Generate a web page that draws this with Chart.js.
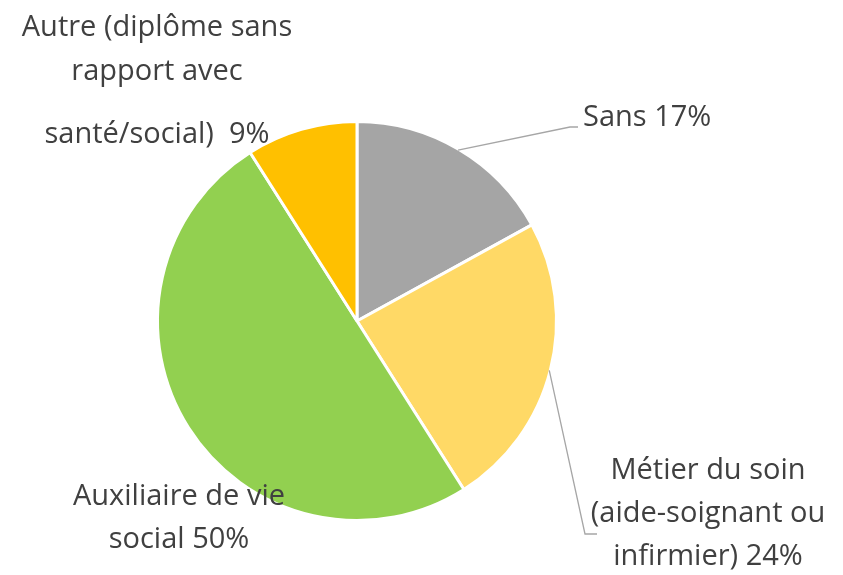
<!DOCTYPE html>
<html>
<head>
<meta charset="utf-8">
<script src="https://cdn.jsdelivr.net/npm/chart.js@4"></script>
<style>
  html, body { margin: 0; padding: 0; background: #fff; }
  #wrap { width: 843px; height: 575px; }
</style>
</head>
<body>
<div id="wrap"><canvas id="pie"></canvas></div>
<script>
// Chart data
const categories = ['Sans', 'Métier du soin (aide-soignant ou infirmier)', 'Auxiliaire de vie social', 'Autre (diplôme sans rapport avec santé/social)'];
const shares = [17, 24, 50, 9];
const sliceColors = ['#A5A5A5', '#FFD966', '#92D050', '#FFC000'];

// Label text lines per slice, plus where each block sits (layout only)
const labelLines = [
    ['Sans 17%'],
    ['Métier du soin', '(aide-soignant ou', 'infirmier) 24%'],
    ['Auxiliaire de vie', 'social 50%'],
    ['Autre (diplôme sans', 'rapport avec', '', 'santé/social)  9%']
];

const labelLayout = [
    { x: 583, y: 118, align: 'left', leader: { elbow: [570, 127], end: [578, 127] } },
    { x: 708, y: 471, align: 'center', leader: { elbow: [585, 534], end: [597, 534] } },
    { x: 179, y: 497, align: 'center' },
    { x: 157, y: 28, align: 'center', gap: [0, 44, 0, 63] }
];

const labelFont = '29px "Open Sans", "Noto Sans", sans-serif';
const lineStep = 43;

// Draws leader lines from each slice's outer mid-angle and the label text
const pieLabels = {
    id: 'pieLabels',
    afterDatasetsDraw(chart) {
        const ctx = chart.ctx;
        const meta = chart.getDatasetMeta(0);
        ctx.save();
        meta.data.forEach((arc, i) => {
            const lay = labelLayout[i];
            const p = arc.getProps(['x', 'y', 'startAngle', 'endAngle', 'outerRadius'], true);
            if (lay.leader) {
                const mid = (p.startAngle + p.endAngle) / 2;
                const sx = p.x + Math.cos(mid) * (p.outerRadius - 1);
                const sy = p.y + Math.sin(mid) * (p.outerRadius - 1);
                ctx.strokeStyle = '#A6A6A6';
                ctx.lineWidth = 1.3;
                ctx.beginPath();
                ctx.moveTo(sx, sy);
                ctx.lineTo(lay.leader.elbow[0], lay.leader.elbow[1]);
                ctx.lineTo(lay.leader.end[0], lay.leader.end[1]);
                ctx.stroke();
            }
            ctx.font = labelFont;
            ctx.fillStyle = '#404040';
            ctx.textAlign = lay.align;
            ctx.textBaseline = 'middle';
            let y = lay.y;
            labelLines[i].forEach((line, k) => {
                if (k > 0) y += lay.gap ? lay.gap[k] : lineStep;
                if (line) ctx.fillText(line, lay.x, y);
            });
        });
        ctx.restore();
    }
};

new Chart(document.getElementById('pie'), {
    type: 'pie',
    data: {
        labels: categories,
        datasets: [{
            data: shares,
            backgroundColor: sliceColors,
            borderColor: '#ffffff',
            borderWidth: 3
        }]
    },
    options: {
        responsive: true,
        maintainAspectRatio: false,
        animation: false,
        layout: {
            padding: { left: 156, right: 285, top: 120, bottom: 53 }
        },
        plugins: {
            legend: { display: false },
            tooltip: { enabled: false }
        }
    },
    plugins: [pieLabels]
});
</script>
</body>
</html>
